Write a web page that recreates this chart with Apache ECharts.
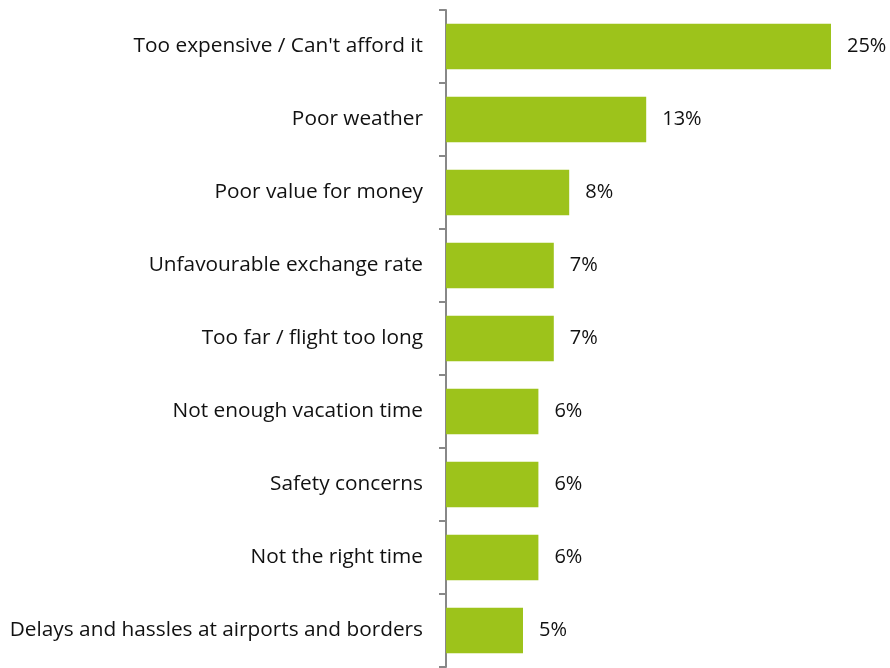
<!DOCTYPE html>
<html><head><meta charset="utf-8">
<script src="https://cdn.jsdelivr.net/npm/echarts@6/dist/echarts.min.js"></script>
<style>html,body{margin:0;padding:0;background:#fff}#c{width:890px;height:668px}</style>
</head><body><div id="c"></div>
<script>
const categories = ["Too expensive / Can't afford it","Poor weather","Poor value for money","Unfavourable exchange rate","Too far / flight too long","Not enough vacation time","Safety concerns","Not the right time","Delays and hassles at airports and borders"];
const values = [25,13,8,7,7,6,6,6,5];
const chart = echarts.init(document.getElementById('c'));
chart.setOption({
  animation:false,
  grid:{left:446,top:10,width:385,height:657,containLabel:false},
  xAxis:{type:'value',min:0,max:25,show:false},
  yAxis:{type:'category',data:categories,inverse:true,
    axisLine:{lineStyle:{color:'#888',width:2}},
    axisTick:{show:true,length:7,lineStyle:{color:'#888',width:2}},
    axisLabel:{margin:23,color:'#111',fontSize:20.8,fontFamily:'Open Sans'}},
  series:[{type:'bar',data:values,barCategoryGap:'38%',
    itemStyle:{color:'#9DC31B'},
    label:{show:true,position:'right',distance:16,formatter:'{c}%',color:'#111',fontSize:20,fontFamily:'Open Sans'}}]
});
</script></body></html>
